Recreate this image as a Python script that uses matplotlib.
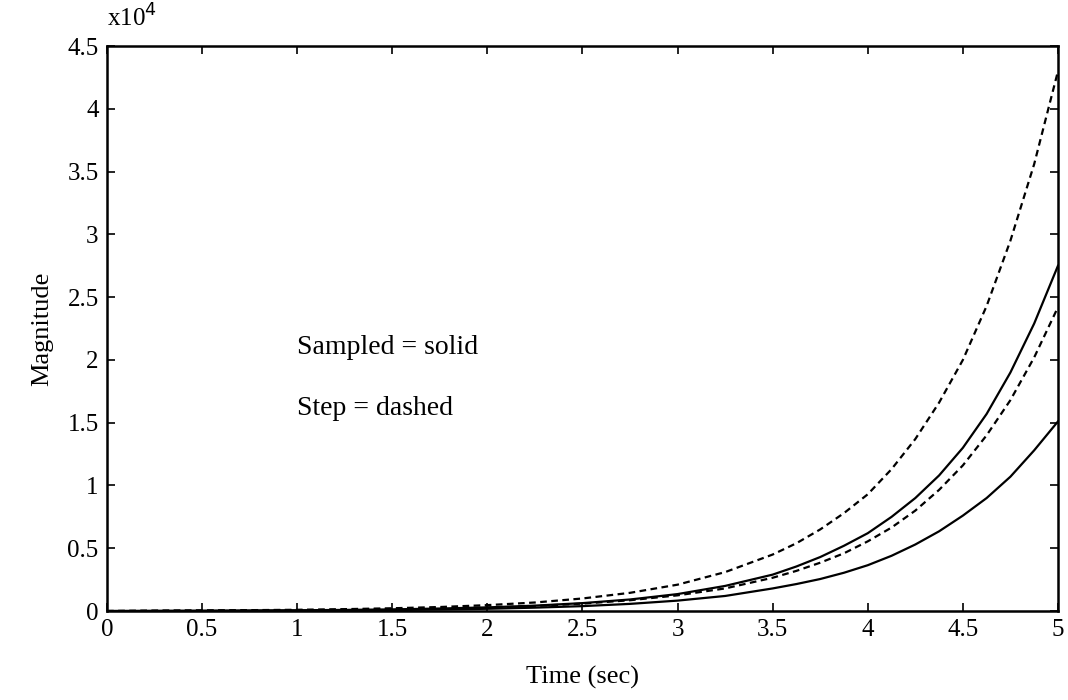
import matplotlib
matplotlib.use("Agg")
import matplotlib.pyplot as plt

t = [0.0, 0.25, 0.5, 0.75, 1.0, 1.25, 1.5, 1.75, 2.0, 2.25, 2.5, 2.75,
     3.0, 3.25, 3.5, 3.625, 3.75, 3.875, 4.0, 4.125, 4.25, 4.375, 4.5,
     4.625, 4.75, 4.875, 5.0]

# values in units of 1e4
step_upper = [0.0, 0.003, 0.005, 0.007, 0.010, 0.015, 0.022, 0.032, 0.047, 0.068, 0.10, 0.145,
              0.21, 0.31, 0.45, 0.54, 0.65, 0.78, 0.93, 1.13, 1.37, 1.66, 2.0,
              2.43, 2.95, 3.56, 4.30]
sampled_upper = [0.0, 0.001, 0.002, 0.004, 0.006, 0.009, 0.013, 0.020, 0.029, 0.043, 0.063, 0.092,
                 0.135, 0.20, 0.29, 0.355, 0.43, 0.52, 0.62, 0.75, 0.90, 1.08, 1.30,
                 1.57, 1.90, 2.29, 2.75]
step_lower = [0.0, 0.001, 0.0025, 0.004, 0.006, 0.009, 0.013, 0.019, 0.028, 0.040, 0.059, 0.086,
              0.125, 0.18, 0.265, 0.32, 0.385, 0.46, 0.555, 0.665, 0.80, 0.965, 1.16,
              1.40, 1.68, 2.02, 2.42]
sampled_lower = [0.0, 0.0007, 0.0015, 0.0025, 0.0037, 0.0055, 0.008, 0.012, 0.018, 0.027, 0.039, 0.057,
                 0.083, 0.12, 0.18, 0.215, 0.255, 0.305, 0.365, 0.44, 0.53, 0.635, 0.76,
                 0.90, 1.07, 1.28, 1.51]

xticks = [0, 0.5, 1, 1.5, 2, 2.5, 3, 3.5, 4, 4.5, 5]
xtick_labels = ["0", "0.5", "1", "1.5", "2", "2.5", "3", "3.5", "4", "4.5", "5"]
yticks = [0, 0.5, 1, 1.5, 2, 2.5, 3, 3.5, 4, 4.5]
ytick_labels = ["0", "0.5", "1", "1.5", "2", "2.5", "3", "3.5", "4", "4.5"]

plt.rcParams['font.family'] = ['Liberation Serif', 'DejaVu Serif']

fig = plt.figure(figsize=(10.68, 7.0), dpi=100)
ax = fig.add_axes([0.1002, 0.1271, 0.8904, 0.8071])

ax.plot(t, step_upper, color='black', lw=1.6, ls=(0, (3, 2)))
ax.plot(t, sampled_upper, color='black', lw=1.6)
ax.plot(t, step_lower, color='black', lw=1.6, ls=(0, (3, 2)))
ax.plot(t, sampled_lower, color='black', lw=1.6)

ax.set_xlim(0, 5)
ax.set_ylim(0, 4.5)
ax.set_xticks(xticks)
ax.set_xticklabels(xtick_labels)
ax.set_yticks(yticks)
ax.set_yticklabels(ytick_labels)
ax.tick_params(direction='in', top=True, right=True, length=6, width=1.2,
               labelsize=18, pad=6)
for s in ax.spines.values():
    s.set_linewidth(1.8)

ax.set_xlabel("Time (sec)", fontsize=19, labelpad=18)
ax.set_ylabel("Magnitude", fontsize=19, labelpad=10)

ax.text(1.0, 2.10, "Sampled = solid", fontsize=20, va='center', ha='left')
ax.text(1.0, 1.61, "Step = dashed", fontsize=20, va='center', ha='left')

ax.text(0.0, 1.025, r"x10$^{4}$", transform=ax.transAxes, fontsize=18,
        ha='left', va='bottom')

fig.savefig("out.png", dpi=100, facecolor='white')
